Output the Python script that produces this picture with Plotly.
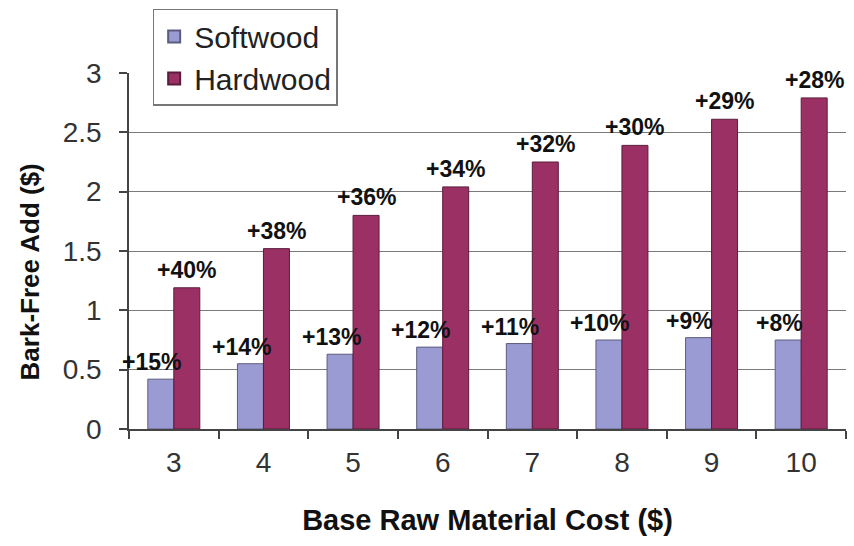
import plotly.graph_objects as go

categories = ["3", "4", "5", "6", "7", "8", "9", "10"]
softwood = [0.42, 0.55, 0.63, 0.69, 0.72, 0.75, 0.77, 0.75]
hardwood = [1.19, 1.52, 1.80, 2.04, 2.25, 2.39, 2.61, 2.79]
softwood_pct = ["+15%", "+14%", "+13%", "+12%", "+11%", "+10%", "+9%", "+8%"]
hardwood_pct = ["+40%", "+38%", "+36%", "+34%", "+32%", "+30%", "+29%", "+28%"]

FONT = "Liberation Sans, Arial, sans-serif"

fig = go.Figure()
fig.add_trace(go.Bar(
    x=categories, y=softwood, name="Softwood",
    marker=dict(color="#9b9bd3", line=dict(color="#5c5c80", width=1)),
))
fig.add_trace(go.Bar(
    x=categories, y=hardwood, name="Hardwood",
    marker=dict(color="#9b3064", line=dict(color="#5a1c3c", width=1)),
))

annotations = []
for i, (v, t) in enumerate(zip(softwood, softwood_pct)):
    annotations.append(dict(x=i, y=v, text="<b>" + t + "</b>", showarrow=False,
                            xref="x", yref="y", xshift=-22, yshift=17, yanchor="middle",
                            font=dict(family=FONT, size=23, color="#111")))
for i, (v, t) in enumerate(zip(hardwood, hardwood_pct)):
    annotations.append(dict(x=i, y=v, text="<b>" + t + "</b>", showarrow=False,
                            xref="x", yref="y", xshift=13, yshift=18, yanchor="middle",
                            font=dict(family=FONT, size=23, color="#111")))
# y-axis title placed as annotation
annotations.append(dict(x=-0.138, y=0.44, xref="paper", yref="paper",
                        text="<b>Bark-Free Add ($)</b>", textangle=-90, showarrow=False,
                        xanchor="center", yanchor="middle",
                        font=dict(family=FONT, size=26, color="#111")))

fig.update_layout(
    width=854, height=546,
    margin=dict(l=129, r=8, t=73, b=117),
    paper_bgcolor="white", plot_bgcolor="white",
    barmode="group", bargap=0.42, bargroupgap=0,
    font=dict(family=FONT, color="#222"),
    showlegend=True,
    legend=dict(
        x=0.033, y=1.18, xanchor="left", yanchor="top",
        bgcolor="white", bordercolor="#777", borderwidth=1.5,
        font=dict(family=FONT, size=30, color="#222"),
        tracegroupgap=4, itemsizing="constant",
    ),
    annotations=annotations,
    xaxis=dict(
        type="category", range=[-0.5, 7.5], showline=True, linecolor="#444", linewidth=1.5,
        ticks="outside", tickson="boundaries", ticklen=8, tickcolor="#444", tickwidth=1.5,
        tickfont=dict(family=FONT, size=28, color="#333"),
        ticklabelstandoff=8,
        showgrid=False,
        title=dict(text="<b>Base Raw Material Cost ($)</b>",
                   font=dict(family=FONT, size=29, color="#111"), standoff=32),
    ),
    yaxis=dict(
        range=[0, 3], dtick=0.5, showline=True, linecolor="#444", linewidth=1.5,
        ticks="outside", ticklen=8, tickcolor="#444", tickwidth=1.5,
        tickfont=dict(family=FONT, size=28, color="#333"),
        ticklabelstandoff=12,
        showgrid=True, gridcolor="#7a7a7a", gridwidth=1.2,
        zeroline=False,
    ),
)

fig.write_html("out.html")
